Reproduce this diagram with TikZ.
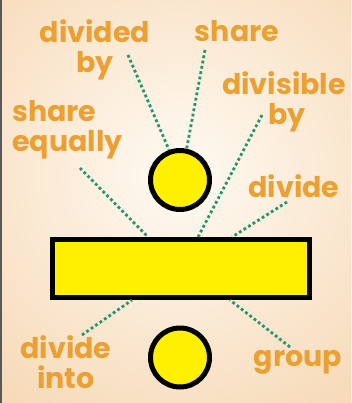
\documentclass[tikz,border=0pt]{standalone}
\usepackage{fontspec}
\setmainfont{Poppins}
\usetikzlibrary{calc}
\definecolor{peach}{RGB}{246,216,180}
\definecolor{glow}{RGB}{255,250,243}
\definecolor{wordorange}{RGB}{234,160,50}
\definecolor{dotgreen}{RGB}{38,148,108}
\definecolor{dotyellow}{RGB}{255,240,0}
\tikzset{
  word/.style={text=wordorange, font=\bfseries\fontsize{28.5}{30}\selectfont, inner sep=0pt},
  dotline/.style={dotgreen, line width=2.8pt, dash pattern=on 2.8pt off 2.6pt},
  dot/.style={circle, draw=black, line width=5pt, fill=dotyellow, minimum size=59pt, inner sep=0pt},
}

\begin{document}
\begin{tikzpicture}[x=1pt, y=-1pt]
    \useasboundingbox (0,0) rectangle (351,403);
    % Background
    \begin{scope}
      \clip (0,0) rectangle (351,403);
      \shade[inner color=glow, outer color=peach] (180,175) circle (300);
    \end{scope}
    \fill[black!65] (0,0) rectangle (2,403);
    % The sign
    \node[dot] (topdot) at (180,180) {};
    \node[draw=black, line width=5pt, fill=dotyellow, minimum width=257pt, minimum height=58pt, inner sep=0pt] (bar) at (181,268.5) {};
    \node[dot] (botdot) at (180,357.5) {};
    % Words
    \node[word, align=center, anchor=north] (dividedby) at (95,19) {divided\\by};
    \node[word, anchor=base] (share) at (237,42) {share};
    \node[word, align=center, anchor=north] (divisibleby) at (284,71) {divisible\\\hspace*{6pt}by};
    \node[word, align=left, anchor=north west] (shareequally) at (12,100) {share\\equally};
    \node[word, anchor=base] (divide) at (294,197) {divide};
    \node[word, align=center, anchor=north] (divideinto) at (66,335) {divide\\into};
    \node[word, anchor=base] (group) at (298,366) {group};
    % Free ends of the dotted lines
    \coordinate (dividedby-end) at (128,55);
    \coordinate (share-end) at (205,50);
    \coordinate (divisibleby-end) at (262,115);
    \coordinate (shareequally-end) at (80,168);
    \coordinate (divide-end) at (287,202);
    \coordinate (divideinto-end) at (82,335);
    \coordinate (group-end) at (290,347);
    % Dotted lines
    \draw[dotline] (dividedby-end) -- (topdot.110);
    \draw[dotline] (share-end) -- (topdot.78);
    \draw[dotline] (divisibleby-end) -- ($(bar.north west)!0.565!(bar.north east)$);
    \draw[dotline] (shareequally-end) -- ($(bar.north west)!0.374!(bar.north east)$);
    \draw[dotline] (divide-end) -- ($(bar.north west)!0.695!(bar.north east)$);
    \draw[dotline] (divideinto-end) -- ($(bar.south west)!0.313!(bar.south east)$);
    \draw[dotline] (group-end) -- ($(bar.south west)!0.687!(bar.south east)$);
\end{tikzpicture}
\end{document}
